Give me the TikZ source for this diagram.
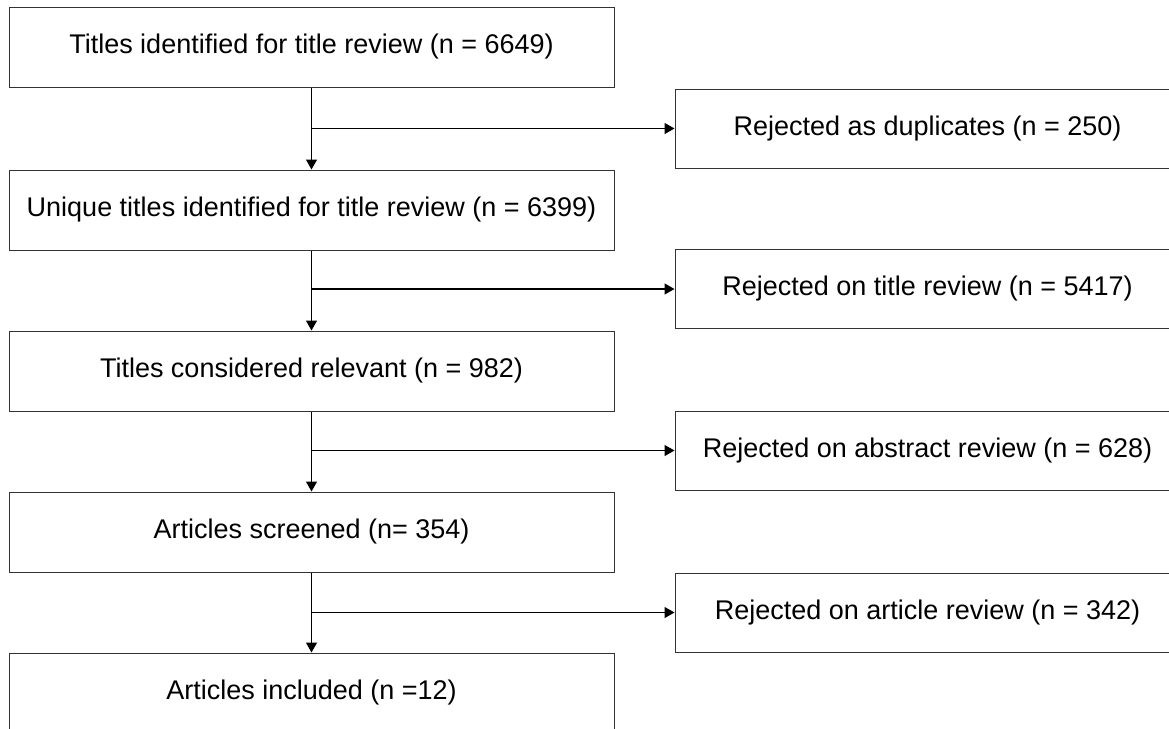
\documentclass[tikz,border=0pt]{standalone}
\usepackage{fontspec}
\setmainfont{Liberation Sans}
\usetikzlibrary{arrows.meta}
\begin{document}
\begin{tikzpicture}[x=1pt,y=-1pt,
  lbox/.style={draw=black!80,line width=1pt,minimum width=605pt,minimum height=80pt,inner sep=0pt,font=\fontsize{27}{32}\selectfont},
  rbox/.style={draw=black!80,line width=1pt,minimum width=505pt,minimum height=79pt,inner sep=0pt,font=\fontsize{27}{32}\selectfont},
  conn/.style={draw=black,line width=1.3pt},
  arr/.style={conn,-{Triangle[length=10pt,width=11pt]}}]
\useasboundingbox (0,0) rectangle (1169,728);
\clip (0,0) rectangle (1169,728);
\node[lbox] (L1) at (311.5,47) {Titles identified for title review (n = 6649)};
\node[lbox] (L2) at (311.5,210) {Unique titles identified for title review (n = 6399)};
\node[lbox] (L3) at (311.5,371) {Titles considered relevant (n = 982)};
\node[lbox] (L4) at (311.5,532) {Articles screened (n= 354)};
\node[lbox] (L5) at (311.5,693) {Articles included (n =12)};
\node[rbox] (R1) at (927.5,128.5) {Rejected as duplicates (n = 250)};
\node[rbox] (R2) at (927.5,289) {Rejected on title review (n = 5417)};
\node[rbox] (R3) at (927.5,450.5) {Rejected on abstract review (n = 628)};
\node[rbox] (R4) at (927.5,612.5) {Rejected on article review (n = 342)};
\coordinate (b1) at (311.5,128.5);
\coordinate (b2) at (311.5,289);
\coordinate (b3) at (311.5,450.5);
\coordinate (b4) at (311.5,612.5);
\draw[arr] (L1.south) -- (L2.north);
\draw[arr] (L2.south) -- (L3.north);
\draw[arr] (L3.south) -- (L4.north);
\draw[arr] (L4.south) -- (L5.north);
\draw[arr] (b1) -- (R1.west);
\draw[arr] (b2) -- (R2.west);
\draw[arr] (b3) -- (R3.west);
\draw[arr] (b4) -- (R4.west);
\end{tikzpicture}
\end{document}
